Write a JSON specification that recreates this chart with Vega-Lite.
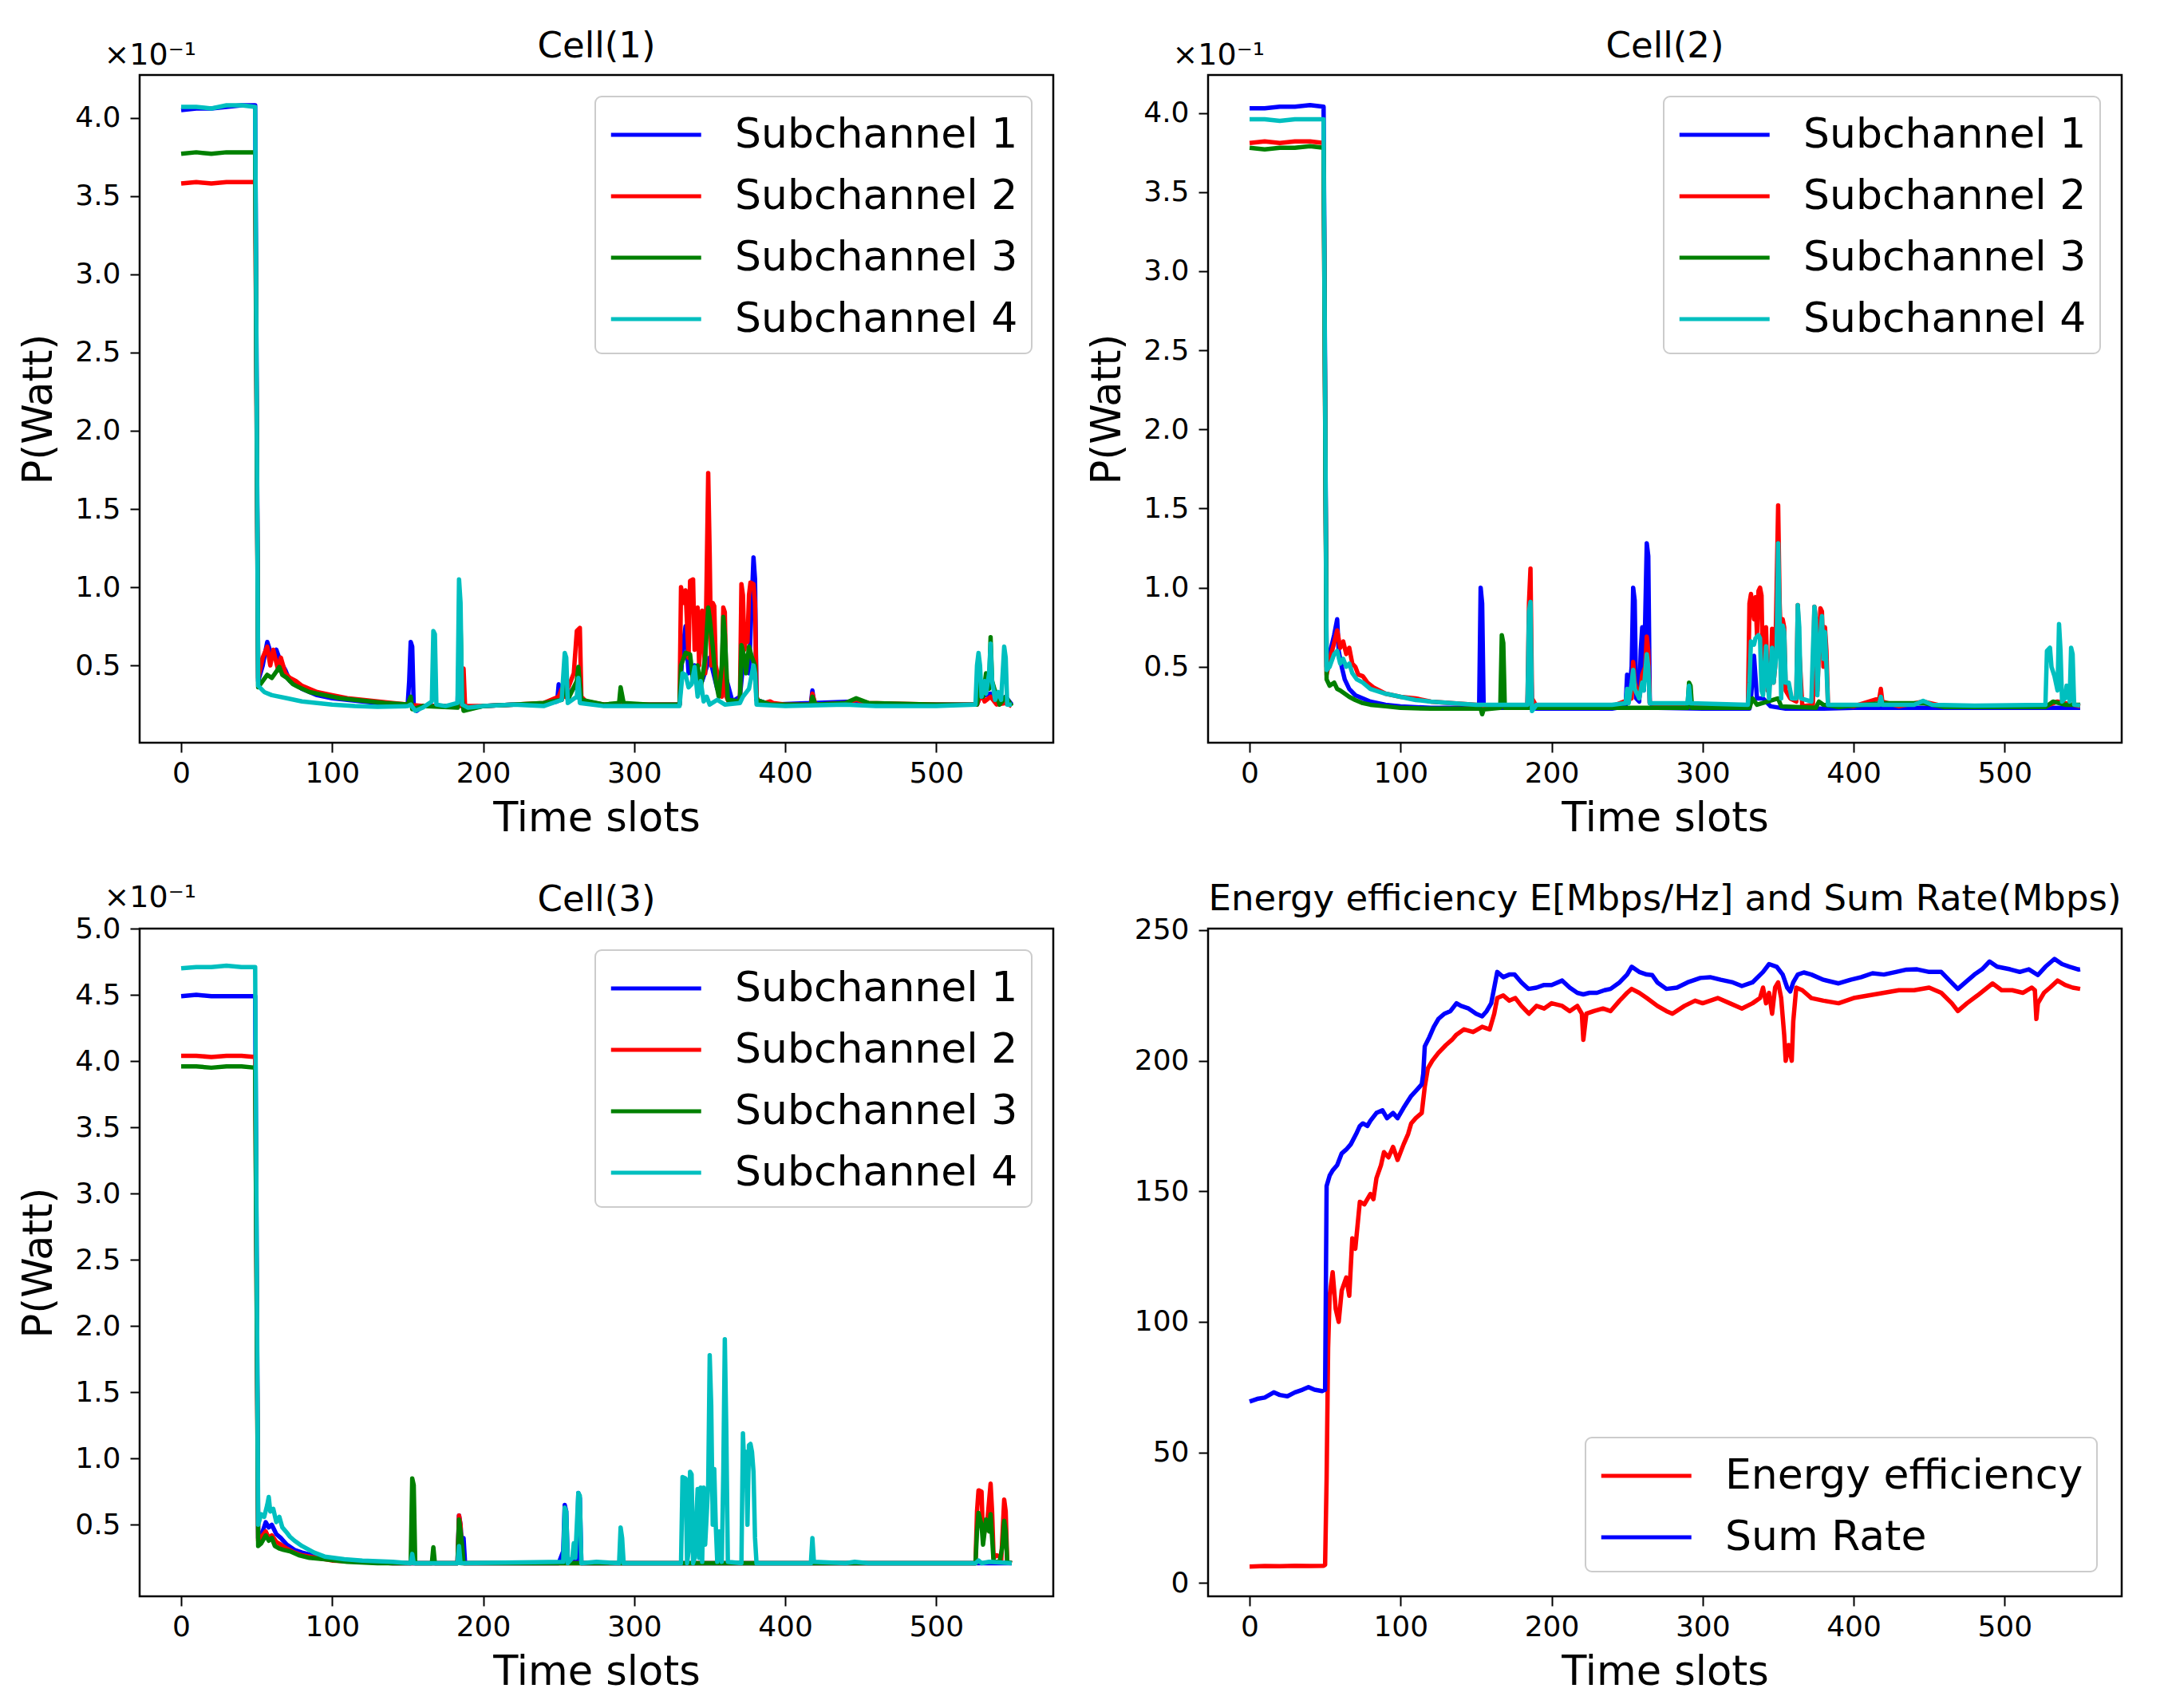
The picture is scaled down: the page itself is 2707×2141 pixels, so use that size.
{
  "$schema": "https://vega.github.io/schema/vega-lite/v6.json",
  "background": "white",
  "padding": {"left": 22, "top": 34, "right": 30, "bottom": 20},
  "columns": 2,
  "bounds": "flush",
  "spacing": {"row": 233, "column": 194},
  "resolve": {
    "scale": {"x": "independent", "y": "independent", "color": "independent"},
    "legend": {"color": "independent"}
  },
  "config": {
    "font": "DejaVu Sans",
    "view": {"stroke": "black", "strokeWidth": 2.5},
    "axis": {
      "domain": false,
      "grid": false,
      "ticks": true,
      "tickColor": "black",
      "tickSize": 12,
      "tickWidth": 2,
      "labelFont": "DejaVu Sans",
      "labelFontSize": 36,
      "labelColor": "black",
      "titleFont": "DejaVu Sans",
      "titleFontSize": 51,
      "titleFontWeight": "normal",
      "titleColor": "black"
    },
    "axisX": {"labelPadding": 9, "titlePadding": 14},
    "axisY": {"labelPadding": 12, "titlePadding": 18},
    "title": {
      "font": "DejaVu Sans",
      "fontSize": 45,
      "fontWeight": "normal",
      "color": "black",
      "anchor": "middle",
      "frame": "group",
      "baseline": "alphabetic"
    },
    "legend": {
      "offset": 27,
      "fillColor": "white",
      "strokeColor": "#cccccc",
      "strokeWidth": 2,
      "cornerRadius": 8,
      "padding": 17,
      "labelFont": "DejaVu Sans",
      "labelFontSize": 52,
      "labelColor": "black",
      "labelLimit": 0,
      "labelOffset": 96,
      "symbolType": "M-1,0H3",
      "symbolSize": 3190,
      "symbolStrokeWidth": 5,
      "rowPadding": 20,
      "title": null
    }
  },
  "datasets": {
    "c1": [
      {"s":"Subchannel 1","t":0,"v":4.05},{"s":"Subchannel 1","t":10,"v":4.06},{"s":"Subchannel 1","t":20,"v":4.06},{"s":"Subchannel 1","t":30,"v":4.07},{"s":"Subchannel 1","t":40,"v":4.08},{"s":"Subchannel 1","t":49,"v":4.08},
      {"s":"Subchannel 1","t":51,"v":0.4},{"s":"Subchannel 1","t":54,"v":0.5},{"s":"Subchannel 1","t":57,"v":0.65},{"s":"Subchannel 1","t":60,"v":0.56},{"s":"Subchannel 1","t":63,"v":0.6},{"s":"Subchannel 1","t":66,"v":0.52},{"s":"Subchannel 1","t":69,"v":0.47},{"s":"Subchannel 1","t":72,"v":0.4},{"s":"Subchannel 1","t":76,"v":0.38},{"s":"Subchannel 1","t":80,"v":0.35},{"s":"Subchannel 1","t":90,"v":0.31},{"s":"Subchannel 1","t":100,"v":0.29},{"s":"Subchannel 1","t":110,"v":0.28},{"s":"Subchannel 1","t":120,"v":0.27},{"s":"Subchannel 1","t":130,"v":0.26},{"s":"Subchannel 1","t":140,"v":0.25},{"s":"Subchannel 1","t":150,"v":0.25},
      {"s":"Subchannel 1","t":151,"v":0.4},{"s":"Subchannel 1","t":152,"v":0.65},{"s":"Subchannel 1","t":153,"v":0.62},{"s":"Subchannel 1","t":154,"v":0.24},{"s":"Subchannel 1","t":156,"v":0.21},{"s":"Subchannel 1","t":160,"v":0.24},{"s":"Subchannel 1","t":183,"v":0.24},{"s":"Subchannel 1","t":184,"v":0.6},{"s":"Subchannel 1","t":185,"v":0.3},{"s":"Subchannel 1","t":187,"v":0.22},{"s":"Subchannel 1","t":200,"v":0.24},{"s":"Subchannel 1","t":220,"v":0.25},{"s":"Subchannel 1","t":240,"v":0.25},{"s":"Subchannel 1","t":249,"v":0.27},{"s":"Subchannel 1","t":250,"v":0.38},{"s":"Subchannel 1","t":252,"v":0.28},{"s":"Subchannel 1","t":254,"v":0.45},{"s":"Subchannel 1","t":256,"v":0.3},{"s":"Subchannel 1","t":263,"v":0.4},{"s":"Subchannel 1","t":265,"v":0.27},{"s":"Subchannel 1","t":280,"v":0.25},{"s":"Subchannel 1","t":300,"v":0.25},{"s":"Subchannel 1","t":330,"v":0.25},
      {"s":"Subchannel 1","t":332,"v":0.6},{"s":"Subchannel 1","t":334,"v":0.75},{"s":"Subchannel 1","t":336,"v":0.45},{"s":"Subchannel 1","t":340,"v":0.5},{"s":"Subchannel 1","t":345,"v":0.4},{"s":"Subchannel 1","t":350,"v":0.55},{"s":"Subchannel 1","t":355,"v":0.35},{"s":"Subchannel 1","t":360,"v":0.45},{"s":"Subchannel 1","t":365,"v":0.27},{"s":"Subchannel 1","t":370,"v":0.3},{"s":"Subchannel 1","t":372,"v":0.5},{"s":"Subchannel 1","t":376,"v":0.45},{"s":"Subchannel 1","t":379,"v":1.19},{"s":"Subchannel 1","t":380,"v":1.05},{"s":"Subchannel 1","t":381,"v":0.28},{"s":"Subchannel 1","t":390,"v":0.25},{"s":"Subchannel 1","t":417,"v":0.26},{"s":"Subchannel 1","t":418,"v":0.34},{"s":"Subchannel 1","t":419,"v":0.26},{"s":"Subchannel 1","t":447,"v":0.27},{"s":"Subchannel 1","t":460,"v":0.25},{"s":"Subchannel 1","t":500,"v":0.25},{"s":"Subchannel 1","t":527,"v":0.25},{"s":"Subchannel 1","t":529,"v":0.3},{"s":"Subchannel 1","t":536,"v":0.32},{"s":"Subchannel 1","t":540,"v":0.26},{"s":"Subchannel 1","t":546,"v":0.3},{"s":"Subchannel 1","t":550,"v":0.25},

      {"s":"Subchannel 2","t":0,"v":3.58},{"s":"Subchannel 2","t":10,"v":3.59},{"s":"Subchannel 2","t":20,"v":3.58},{"s":"Subchannel 2","t":30,"v":3.59},{"s":"Subchannel 2","t":40,"v":3.59},{"s":"Subchannel 2","t":49,"v":3.59},
      {"s":"Subchannel 2","t":51,"v":0.42},{"s":"Subchannel 2","t":54,"v":0.55},{"s":"Subchannel 2","t":57,"v":0.62},{"s":"Subchannel 2","t":59,"v":0.5},{"s":"Subchannel 2","t":61,"v":0.6},{"s":"Subchannel 2","t":64,"v":0.48},{"s":"Subchannel 2","t":66,"v":0.55},{"s":"Subchannel 2","t":69,"v":0.45},{"s":"Subchannel 2","t":72,"v":0.42},{"s":"Subchannel 2","t":76,"v":0.4},{"s":"Subchannel 2","t":80,"v":0.37},{"s":"Subchannel 2","t":90,"v":0.33},{"s":"Subchannel 2","t":100,"v":0.31},{"s":"Subchannel 2","t":110,"v":0.29},{"s":"Subchannel 2","t":120,"v":0.28},{"s":"Subchannel 2","t":130,"v":0.27},{"s":"Subchannel 2","t":140,"v":0.26},{"s":"Subchannel 2","t":150,"v":0.25},{"s":"Subchannel 2","t":160,"v":0.24},{"s":"Subchannel 2","t":185,"v":0.24},{"s":"Subchannel 2","t":187,"v":0.48},{"s":"Subchannel 2","t":188,"v":0.24},{"s":"Subchannel 2","t":200,"v":0.24},{"s":"Subchannel 2","t":220,"v":0.25},{"s":"Subchannel 2","t":240,"v":0.26},{"s":"Subchannel 2","t":250,"v":0.3},{"s":"Subchannel 2","t":252,"v":0.35},{"s":"Subchannel 2","t":254,"v":0.3},{"s":"Subchannel 2","t":260,"v":0.45},{"s":"Subchannel 2","t":262,"v":0.72},{"s":"Subchannel 2","t":264,"v":0.74},{"s":"Subchannel 2","t":265,"v":0.3},{"s":"Subchannel 2","t":268,"v":0.27},{"s":"Subchannel 2","t":280,"v":0.25},{"s":"Subchannel 2","t":300,"v":0.25},{"s":"Subchannel 2","t":330,"v":0.25},
      {"s":"Subchannel 2","t":331,"v":1.0},{"s":"Subchannel 2","t":333,"v":0.9},{"s":"Subchannel 2","t":334,"v":0.98},{"s":"Subchannel 2","t":336,"v":0.55},{"s":"Subchannel 2","t":337,"v":1.04},{"s":"Subchannel 2","t":339,"v":1.05},{"s":"Subchannel 2","t":340,"v":0.6},{"s":"Subchannel 2","t":342,"v":0.87},{"s":"Subchannel 2","t":343,"v":0.5},{"s":"Subchannel 2","t":345,"v":0.85},{"s":"Subchannel 2","t":347,"v":0.45},{"s":"Subchannel 2","t":349,"v":1.73},{"s":"Subchannel 2","t":350,"v":1.2},{"s":"Subchannel 2","t":351,"v":0.5},{"s":"Subchannel 2","t":352,"v":0.9},{"s":"Subchannel 2","t":353,"v":0.88},{"s":"Subchannel 2","t":354,"v":0.5},{"s":"Subchannel 2","t":356,"v":0.4},{"s":"Subchannel 2","t":357,"v":0.42},{"s":"Subchannel 2","t":358,"v":0.3},{"s":"Subchannel 2","t":359,"v":0.87},{"s":"Subchannel 2","t":360,"v":0.84},{"s":"Subchannel 2","t":361,"v":0.3},{"s":"Subchannel 2","t":363,"v":0.26},{"s":"Subchannel 2","t":370,"v":0.27},{"s":"Subchannel 2","t":371,"v":1.02},{"s":"Subchannel 2","t":372,"v":0.95},{"s":"Subchannel 2","t":373,"v":0.6},{"s":"Subchannel 2","t":374,"v":0.7},{"s":"Subchannel 2","t":375,"v":0.65},{"s":"Subchannel 2","t":376,"v":0.95},{"s":"Subchannel 2","t":377,"v":1.03},{"s":"Subchannel 2","t":379,"v":1.02},{"s":"Subchannel 2","t":380,"v":0.9},{"s":"Subchannel 2","t":381,"v":0.3},{"s":"Subchannel 2","t":383,"v":0.25},{"s":"Subchannel 2","t":390,"v":0.27},{"s":"Subchannel 2","t":392,"v":0.26},{"s":"Subchannel 2","t":400,"v":0.25},{"s":"Subchannel 2","t":417,"v":0.25},{"s":"Subchannel 2","t":418,"v":0.32},{"s":"Subchannel 2","t":420,"v":0.25},{"s":"Subchannel 2","t":440,"v":0.26},{"s":"Subchannel 2","t":447,"v":0.28},{"s":"Subchannel 2","t":455,"v":0.26},{"s":"Subchannel 2","t":500,"v":0.25},{"s":"Subchannel 2","t":527,"v":0.25},{"s":"Subchannel 2","t":530,"v":0.32},{"s":"Subchannel 2","t":532,"v":0.27},{"s":"Subchannel 2","t":536,"v":0.3},{"s":"Subchannel 2","t":540,"v":0.25},{"s":"Subchannel 2","t":546,"v":0.26},{"s":"Subchannel 2","t":550,"v":0.24},

      {"s":"Subchannel 3","t":0,"v":3.77},{"s":"Subchannel 3","t":10,"v":3.78},{"s":"Subchannel 3","t":20,"v":3.77},{"s":"Subchannel 3","t":30,"v":3.78},{"s":"Subchannel 3","t":40,"v":3.78},{"s":"Subchannel 3","t":49,"v":3.78},
      {"s":"Subchannel 3","t":51,"v":0.36},{"s":"Subchannel 3","t":54,"v":0.4},{"s":"Subchannel 3","t":57,"v":0.44},{"s":"Subchannel 3","t":60,"v":0.42},{"s":"Subchannel 3","t":63,"v":0.46},{"s":"Subchannel 3","t":65,"v":0.49},{"s":"Subchannel 3","t":67,"v":0.44},{"s":"Subchannel 3","t":70,"v":0.42},{"s":"Subchannel 3","t":74,"v":0.38},{"s":"Subchannel 3","t":78,"v":0.36},{"s":"Subchannel 3","t":85,"v":0.33},{"s":"Subchannel 3","t":95,"v":0.31},{"s":"Subchannel 3","t":105,"v":0.29},{"s":"Subchannel 3","t":115,"v":0.28},{"s":"Subchannel 3","t":125,"v":0.27},{"s":"Subchannel 3","t":135,"v":0.26},{"s":"Subchannel 3","t":150,"v":0.25},{"s":"Subchannel 3","t":152,"v":0.3},{"s":"Subchannel 3","t":153,"v":0.22},{"s":"Subchannel 3","t":160,"v":0.24},{"s":"Subchannel 3","t":183,"v":0.23},{"s":"Subchannel 3","t":184,"v":0.4},{"s":"Subchannel 3","t":185,"v":0.75},{"s":"Subchannel 3","t":186,"v":0.3},{"s":"Subchannel 3","t":187,"v":0.21},{"s":"Subchannel 3","t":200,"v":0.24},{"s":"Subchannel 3","t":220,"v":0.25},{"s":"Subchannel 3","t":240,"v":0.26},{"s":"Subchannel 3","t":252,"v":0.28},{"s":"Subchannel 3","t":254,"v":0.38},{"s":"Subchannel 3","t":256,"v":0.28},{"s":"Subchannel 3","t":262,"v":0.4},{"s":"Subchannel 3","t":263,"v":0.49},{"s":"Subchannel 3","t":265,"v":0.28},{"s":"Subchannel 3","t":280,"v":0.25},{"s":"Subchannel 3","t":290,"v":0.26},{"s":"Subchannel 3","t":291,"v":0.36},{"s":"Subchannel 3","t":293,"v":0.26},{"s":"Subchannel 3","t":310,"v":0.25},{"s":"Subchannel 3","t":330,"v":0.25},
      {"s":"Subchannel 3","t":331,"v":0.5},{"s":"Subchannel 3","t":334,"v":0.58},{"s":"Subchannel 3","t":337,"v":0.57},{"s":"Subchannel 3","t":339,"v":0.4},{"s":"Subchannel 3","t":342,"v":0.5},{"s":"Subchannel 3","t":344,"v":0.35},{"s":"Subchannel 3","t":347,"v":0.55},{"s":"Subchannel 3","t":349,"v":0.87},{"s":"Subchannel 3","t":350,"v":0.8},{"s":"Subchannel 3","t":352,"v":0.62},{"s":"Subchannel 3","t":354,"v":0.4},{"s":"Subchannel 3","t":356,"v":0.3},{"s":"Subchannel 3","t":358,"v":0.5},{"s":"Subchannel 3","t":359,"v":0.81},{"s":"Subchannel 3","t":360,"v":0.7},{"s":"Subchannel 3","t":362,"v":0.28},{"s":"Subchannel 3","t":370,"v":0.27},{"s":"Subchannel 3","t":371,"v":0.63},{"s":"Subchannel 3","t":373,"v":0.55},{"s":"Subchannel 3","t":374,"v":0.45},{"s":"Subchannel 3","t":376,"v":0.62},{"s":"Subchannel 3","t":378,"v":0.55},{"s":"Subchannel 3","t":380,"v":0.5},{"s":"Subchannel 3","t":381,"v":0.28},{"s":"Subchannel 3","t":390,"v":0.25},{"s":"Subchannel 3","t":417,"v":0.25},{"s":"Subchannel 3","t":418,"v":0.3},{"s":"Subchannel 3","t":420,"v":0.25},{"s":"Subchannel 3","t":440,"v":0.26},{"s":"Subchannel 3","t":447,"v":0.29},{"s":"Subchannel 3","t":455,"v":0.26},{"s":"Subchannel 3","t":500,"v":0.25},{"s":"Subchannel 3","t":527,"v":0.25},{"s":"Subchannel 3","t":529,"v":0.4},{"s":"Subchannel 3","t":531,"v":0.3},{"s":"Subchannel 3","t":533,"v":0.45},{"s":"Subchannel 3","t":535,"v":0.35},{"s":"Subchannel 3","t":536,"v":0.68},{"s":"Subchannel 3","t":537,"v":0.4},{"s":"Subchannel 3","t":540,"v":0.3},{"s":"Subchannel 3","t":542,"v":0.25},{"s":"Subchannel 3","t":546,"v":0.3},{"s":"Subchannel 3","t":550,"v":0.24},

      {"s":"Subchannel 4","t":0,"v":4.07},{"s":"Subchannel 4","t":10,"v":4.07},{"s":"Subchannel 4","t":20,"v":4.06},{"s":"Subchannel 4","t":30,"v":4.08},{"s":"Subchannel 4","t":40,"v":4.08},{"s":"Subchannel 4","t":49,"v":4.07},
      {"s":"Subchannel 4","t":51,"v":0.37},{"s":"Subchannel 4","t":55,"v":0.33},{"s":"Subchannel 4","t":60,"v":0.31},{"s":"Subchannel 4","t":70,"v":0.29},{"s":"Subchannel 4","t":80,"v":0.27},{"s":"Subchannel 4","t":90,"v":0.26},{"s":"Subchannel 4","t":100,"v":0.25},{"s":"Subchannel 4","t":115,"v":0.24},{"s":"Subchannel 4","t":130,"v":0.235},{"s":"Subchannel 4","t":150,"v":0.24},{"s":"Subchannel 4","t":152,"v":0.25},{"s":"Subchannel 4","t":155,"v":0.21},{"s":"Subchannel 4","t":160,"v":0.23},{"s":"Subchannel 4","t":166,"v":0.27},{"s":"Subchannel 4","t":167,"v":0.72},{"s":"Subchannel 4","t":168,"v":0.7},{"s":"Subchannel 4","t":169,"v":0.25},{"s":"Subchannel 4","t":175,"v":0.24},{"s":"Subchannel 4","t":183,"v":0.26},{"s":"Subchannel 4","t":184,"v":1.05},{"s":"Subchannel 4","t":185,"v":0.9},{"s":"Subchannel 4","t":186,"v":0.25},{"s":"Subchannel 4","t":190,"v":0.23},{"s":"Subchannel 4","t":200,"v":0.24},{"s":"Subchannel 4","t":220,"v":0.25},{"s":"Subchannel 4","t":240,"v":0.24},{"s":"Subchannel 4","t":252,"v":0.28},{"s":"Subchannel 4","t":254,"v":0.58},{"s":"Subchannel 4","t":255,"v":0.55},{"s":"Subchannel 4","t":256,"v":0.26},{"s":"Subchannel 4","t":262,"v":0.3},{"s":"Subchannel 4","t":263,"v":0.42},{"s":"Subchannel 4","t":264,"v":0.26},{"s":"Subchannel 4","t":280,"v":0.24},{"s":"Subchannel 4","t":300,"v":0.24},{"s":"Subchannel 4","t":330,"v":0.24},
      {"s":"Subchannel 4","t":332,"v":0.45},{"s":"Subchannel 4","t":334,"v":0.44},{"s":"Subchannel 4","t":336,"v":0.36},{"s":"Subchannel 4","t":338,"v":0.38},{"s":"Subchannel 4","t":340,"v":0.49},{"s":"Subchannel 4","t":342,"v":0.3},{"s":"Subchannel 4","t":344,"v":0.4},{"s":"Subchannel 4","t":346,"v":0.27},{"s":"Subchannel 4","t":348,"v":0.3},{"s":"Subchannel 4","t":350,"v":0.25},{"s":"Subchannel 4","t":355,"v":0.28},{"s":"Subchannel 4","t":360,"v":0.25},{"s":"Subchannel 4","t":370,"v":0.26},{"s":"Subchannel 4","t":372,"v":0.3},{"s":"Subchannel 4","t":376,"v":0.35},{"s":"Subchannel 4","t":379,"v":0.5},{"s":"Subchannel 4","t":380,"v":0.45},{"s":"Subchannel 4","t":381,"v":0.25},{"s":"Subchannel 4","t":400,"v":0.24},{"s":"Subchannel 4","t":440,"v":0.25},{"s":"Subchannel 4","t":460,"v":0.24},{"s":"Subchannel 4","t":500,"v":0.24},{"s":"Subchannel 4","t":526,"v":0.25},{"s":"Subchannel 4","t":527,"v":0.5},{"s":"Subchannel 4","t":528,"v":0.58},{"s":"Subchannel 4","t":529,"v":0.5},{"s":"Subchannel 4","t":530,"v":0.3},{"s":"Subchannel 4","t":532,"v":0.4},{"s":"Subchannel 4","t":533,"v":0.32},{"s":"Subchannel 4","t":535,"v":0.45},{"s":"Subchannel 4","t":536,"v":0.64},{"s":"Subchannel 4","t":537,"v":0.4},{"s":"Subchannel 4","t":539,"v":0.28},{"s":"Subchannel 4","t":541,"v":0.33},{"s":"Subchannel 4","t":543,"v":0.28},{"s":"Subchannel 4","t":545,"v":0.62},{"s":"Subchannel 4","t":546,"v":0.55},{"s":"Subchannel 4","t":547,"v":0.25},{"s":"Subchannel 4","t":550,"v":0.25}
    ],
    "c2": [
      {"s":"Subchannel 1","t":0,"v":4.03},{"s":"Subchannel 1","t":10,"v":4.03},{"s":"Subchannel 1","t":20,"v":4.04},{"s":"Subchannel 1","t":30,"v":4.04},{"s":"Subchannel 1","t":40,"v":4.05},{"s":"Subchannel 1","t":49,"v":4.04},
      {"s":"Subchannel 1","t":51,"v":0.5},{"s":"Subchannel 1","t":54,"v":0.62},{"s":"Subchannel 1","t":56,"v":0.7},{"s":"Subchannel 1","t":58,"v":0.8},{"s":"Subchannel 1","t":59,"v":0.6},{"s":"Subchannel 1","t":61,"v":0.5},{"s":"Subchannel 1","t":63,"v":0.42},{"s":"Subchannel 1","t":66,"v":0.36},{"s":"Subchannel 1","t":70,"v":0.32},{"s":"Subchannel 1","t":75,"v":0.3},{"s":"Subchannel 1","t":80,"v":0.28},{"s":"Subchannel 1","t":90,"v":0.26},{"s":"Subchannel 1","t":100,"v":0.25},{"s":"Subchannel 1","t":120,"v":0.24},{"s":"Subchannel 1","t":152,"v":0.24},{"s":"Subchannel 1","t":153,"v":1.0},{"s":"Subchannel 1","t":154,"v":0.9},{"s":"Subchannel 1","t":155,"v":0.235},{"s":"Subchannel 1","t":160,"v":0.24},{"s":"Subchannel 1","t":184,"v":0.24},{"s":"Subchannel 1","t":185,"v":0.6},{"s":"Subchannel 1","t":186,"v":0.7},{"s":"Subchannel 1","t":187,"v":0.235},{"s":"Subchannel 1","t":200,"v":0.235},{"s":"Subchannel 1","t":240,"v":0.235},{"s":"Subchannel 1","t":249,"v":0.25},{"s":"Subchannel 1","t":250,"v":0.45},{"s":"Subchannel 1","t":251,"v":0.3},{"s":"Subchannel 1","t":253,"v":0.5},{"s":"Subchannel 1","t":254,"v":1.0},{"s":"Subchannel 1","t":255,"v":0.92},{"s":"Subchannel 1","t":256,"v":0.3},{"s":"Subchannel 1","t":258,"v":0.28},{"s":"Subchannel 1","t":259,"v":0.6},{"s":"Subchannel 1","t":260,"v":0.75},{"s":"Subchannel 1","t":261,"v":0.35},{"s":"Subchannel 1","t":263,"v":1.28},{"s":"Subchannel 1","t":264,"v":1.2},{"s":"Subchannel 1","t":265,"v":0.27},{"s":"Subchannel 1","t":270,"v":0.24},{"s":"Subchannel 1","t":300,"v":0.235},{"s":"Subchannel 1","t":331,"v":0.235},{"s":"Subchannel 1","t":332,"v":0.3},{"s":"Subchannel 1","t":334,"v":0.57},{"s":"Subchannel 1","t":336,"v":0.3},{"s":"Subchannel 1","t":340,"v":0.3},{"s":"Subchannel 1","t":345,"v":0.25},{"s":"Subchannel 1","t":355,"v":0.235},{"s":"Subchannel 1","t":380,"v":0.235},{"s":"Subchannel 1","t":400,"v":0.24},{"s":"Subchannel 1","t":460,"v":0.24},{"s":"Subchannel 1","t":500,"v":0.24},{"s":"Subchannel 1","t":527,"v":0.24},{"s":"Subchannel 1","t":550,"v":0.24},

      {"s":"Subchannel 2","t":0,"v":3.81},{"s":"Subchannel 2","t":10,"v":3.82},{"s":"Subchannel 2","t":20,"v":3.81},{"s":"Subchannel 2","t":30,"v":3.82},{"s":"Subchannel 2","t":40,"v":3.82},{"s":"Subchannel 2","t":49,"v":3.81},
      {"s":"Subchannel 2","t":51,"v":0.45},{"s":"Subchannel 2","t":54,"v":0.58},{"s":"Subchannel 2","t":56,"v":0.65},{"s":"Subchannel 2","t":58,"v":0.73},{"s":"Subchannel 2","t":60,"v":0.62},{"s":"Subchannel 2","t":62,"v":0.66},{"s":"Subchannel 2","t":64,"v":0.58},{"s":"Subchannel 2","t":66,"v":0.62},{"s":"Subchannel 2","t":68,"v":0.52},{"s":"Subchannel 2","t":70,"v":0.5},{"s":"Subchannel 2","t":72,"v":0.45},{"s":"Subchannel 2","t":75,"v":0.44},{"s":"Subchannel 2","t":78,"v":0.4},{"s":"Subchannel 2","t":82,"v":0.37},{"s":"Subchannel 2","t":90,"v":0.33},{"s":"Subchannel 2","t":100,"v":0.31},{"s":"Subchannel 2","t":110,"v":0.3},{"s":"Subchannel 2","t":120,"v":0.28},{"s":"Subchannel 2","t":135,"v":0.27},{"s":"Subchannel 2","t":150,"v":0.26},{"s":"Subchannel 2","t":160,"v":0.25},{"s":"Subchannel 2","t":184,"v":0.26},{"s":"Subchannel 2","t":185,"v":0.9},{"s":"Subchannel 2","t":186,"v":1.12},{"s":"Subchannel 2","t":187,"v":0.3},{"s":"Subchannel 2","t":190,"v":0.25},{"s":"Subchannel 2","t":200,"v":0.25},{"s":"Subchannel 2","t":240,"v":0.25},{"s":"Subchannel 2","t":253,"v":0.3},{"s":"Subchannel 2","t":254,"v":0.53},{"s":"Subchannel 2","t":255,"v":0.4},{"s":"Subchannel 2","t":258,"v":0.3},{"s":"Subchannel 2","t":260,"v":0.45},{"s":"Subchannel 2","t":262,"v":0.5},{"s":"Subchannel 2","t":263,"v":0.69},{"s":"Subchannel 2","t":264,"v":0.6},{"s":"Subchannel 2","t":265,"v":0.27},{"s":"Subchannel 2","t":280,"v":0.25},{"s":"Subchannel 2","t":330,"v":0.25},
      {"s":"Subchannel 2","t":331,"v":0.9},{"s":"Subchannel 2","t":332,"v":0.96},{"s":"Subchannel 2","t":334,"v":0.8},{"s":"Subchannel 2","t":335,"v":0.94},{"s":"Subchannel 2","t":336,"v":0.7},{"s":"Subchannel 2","t":337,"v":0.98},{"s":"Subchannel 2","t":338,"v":1.0},{"s":"Subchannel 2","t":339,"v":0.95},{"s":"Subchannel 2","t":340,"v":0.4},{"s":"Subchannel 2","t":342,"v":0.75},{"s":"Subchannel 2","t":343,"v":0.35},{"s":"Subchannel 2","t":345,"v":0.4},{"s":"Subchannel 2","t":346,"v":0.74},{"s":"Subchannel 2","t":347,"v":0.4},{"s":"Subchannel 2","t":348,"v":0.5},{"s":"Subchannel 2","t":349,"v":1.0},{"s":"Subchannel 2","t":350,"v":1.52},{"s":"Subchannel 2","t":351,"v":0.9},{"s":"Subchannel 2","t":352,"v":0.6},{"s":"Subchannel 2","t":353,"v":0.8},{"s":"Subchannel 2","t":354,"v":0.75},{"s":"Subchannel 2","t":355,"v":0.35},{"s":"Subchannel 2","t":358,"v":0.3},{"s":"Subchannel 2","t":362,"v":0.28},{"s":"Subchannel 2","t":363,"v":0.89},{"s":"Subchannel 2","t":364,"v":0.6},{"s":"Subchannel 2","t":366,"v":0.25},{"s":"Subchannel 2","t":373,"v":0.26},{"s":"Subchannel 2","t":374,"v":0.88},{"s":"Subchannel 2","t":375,"v":0.8},{"s":"Subchannel 2","t":376,"v":0.35},{"s":"Subchannel 2","t":377,"v":0.6},{"s":"Subchannel 2","t":378,"v":0.87},{"s":"Subchannel 2","t":379,"v":0.85},{"s":"Subchannel 2","t":380,"v":0.5},{"s":"Subchannel 2","t":381,"v":0.75},{"s":"Subchannel 2","t":382,"v":0.6},{"s":"Subchannel 2","t":383,"v":0.26},{"s":"Subchannel 2","t":400,"v":0.25},{"s":"Subchannel 2","t":417,"v":0.3},{"s":"Subchannel 2","t":418,"v":0.36},{"s":"Subchannel 2","t":419,"v":0.28},{"s":"Subchannel 2","t":430,"v":0.25},{"s":"Subchannel 2","t":446,"v":0.28},{"s":"Subchannel 2","t":460,"v":0.25},{"s":"Subchannel 2","t":500,"v":0.25},{"s":"Subchannel 2","t":527,"v":0.25},{"s":"Subchannel 2","t":535,"v":0.28},{"s":"Subchannel 2","t":550,"v":0.25},

      {"s":"Subchannel 3","t":0,"v":3.78},{"s":"Subchannel 3","t":10,"v":3.77},{"s":"Subchannel 3","t":20,"v":3.78},{"s":"Subchannel 3","t":30,"v":3.78},{"s":"Subchannel 3","t":40,"v":3.79},{"s":"Subchannel 3","t":49,"v":3.78},
      {"s":"Subchannel 3","t":51,"v":0.42},{"s":"Subchannel 3","t":53,"v":0.38},{"s":"Subchannel 3","t":56,"v":0.4},{"s":"Subchannel 3","t":58,"v":0.36},{"s":"Subchannel 3","t":60,"v":0.35},{"s":"Subchannel 3","t":63,"v":0.33},{"s":"Subchannel 3","t":66,"v":0.31},{"s":"Subchannel 3","t":70,"v":0.29},{"s":"Subchannel 3","t":75,"v":0.27},{"s":"Subchannel 3","t":80,"v":0.26},{"s":"Subchannel 3","t":90,"v":0.25},{"s":"Subchannel 3","t":100,"v":0.24},{"s":"Subchannel 3","t":120,"v":0.235},{"s":"Subchannel 3","t":153,"v":0.235},{"s":"Subchannel 3","t":154,"v":0.2},{"s":"Subchannel 3","t":155,"v":0.23},{"s":"Subchannel 3","t":166,"v":0.24},{"s":"Subchannel 3","t":167,"v":0.7},{"s":"Subchannel 3","t":168,"v":0.65},{"s":"Subchannel 3","t":169,"v":0.24},{"s":"Subchannel 3","t":200,"v":0.24},{"s":"Subchannel 3","t":250,"v":0.24},{"s":"Subchannel 3","t":290,"v":0.24},{"s":"Subchannel 3","t":291,"v":0.4},{"s":"Subchannel 3","t":292,"v":0.38},{"s":"Subchannel 3","t":293,"v":0.24},{"s":"Subchannel 3","t":331,"v":0.24},{"s":"Subchannel 3","t":333,"v":0.3},{"s":"Subchannel 3","t":336,"v":0.26},{"s":"Subchannel 3","t":350,"v":0.3},{"s":"Subchannel 3","t":352,"v":0.25},{"s":"Subchannel 3","t":375,"v":0.24},{"s":"Subchannel 3","t":377,"v":0.28},{"s":"Subchannel 3","t":380,"v":0.26},{"s":"Subchannel 3","t":390,"v":0.245},{"s":"Subchannel 3","t":418,"v":0.27},{"s":"Subchannel 3","t":446,"v":0.27},{"s":"Subchannel 3","t":460,"v":0.245},{"s":"Subchannel 3","t":500,"v":0.245},{"s":"Subchannel 3","t":527,"v":0.245},{"s":"Subchannel 3","t":532,"v":0.28},{"s":"Subchannel 3","t":540,"v":0.26},{"s":"Subchannel 3","t":550,"v":0.26},

      {"s":"Subchannel 4","t":0,"v":3.96},{"s":"Subchannel 4","t":10,"v":3.96},{"s":"Subchannel 4","t":20,"v":3.95},{"s":"Subchannel 4","t":30,"v":3.96},{"s":"Subchannel 4","t":40,"v":3.96},{"s":"Subchannel 4","t":49,"v":3.96},
      {"s":"Subchannel 4","t":51,"v":0.48},{"s":"Subchannel 4","t":53,"v":0.5},{"s":"Subchannel 4","t":56,"v":0.58},{"s":"Subchannel 4","t":58,"v":0.6},{"s":"Subchannel 4","t":60,"v":0.52},{"s":"Subchannel 4","t":62,"v":0.55},{"s":"Subchannel 4","t":64,"v":0.5},{"s":"Subchannel 4","t":66,"v":0.52},{"s":"Subchannel 4","t":68,"v":0.46},{"s":"Subchannel 4","t":71,"v":0.42},{"s":"Subchannel 4","t":75,"v":0.4},{"s":"Subchannel 4","t":80,"v":0.36},{"s":"Subchannel 4","t":90,"v":0.33},{"s":"Subchannel 4","t":100,"v":0.31},{"s":"Subchannel 4","t":110,"v":0.29},{"s":"Subchannel 4","t":120,"v":0.28},{"s":"Subchannel 4","t":135,"v":0.27},{"s":"Subchannel 4","t":150,"v":0.26},{"s":"Subchannel 4","t":184,"v":0.26},{"s":"Subchannel 4","t":185,"v":0.85},{"s":"Subchannel 4","t":186,"v":0.91},{"s":"Subchannel 4","t":187,"v":0.22},{"s":"Subchannel 4","t":190,"v":0.26},{"s":"Subchannel 4","t":240,"v":0.26},{"s":"Subchannel 4","t":249,"v":0.27},{"s":"Subchannel 4","t":250,"v":0.36},{"s":"Subchannel 4","t":251,"v":0.27},{"s":"Subchannel 4","t":253,"v":0.4},{"s":"Subchannel 4","t":254,"v":0.48},{"s":"Subchannel 4","t":255,"v":0.36},{"s":"Subchannel 4","t":258,"v":0.3},{"s":"Subchannel 4","t":260,"v":0.4},{"s":"Subchannel 4","t":261,"v":0.35},{"s":"Subchannel 4","t":263,"v":0.58},{"s":"Subchannel 4","t":264,"v":0.5},{"s":"Subchannel 4","t":265,"v":0.27},{"s":"Subchannel 4","t":290,"v":0.27},{"s":"Subchannel 4","t":291,"v":0.38},{"s":"Subchannel 4","t":292,"v":0.27},{"s":"Subchannel 4","t":330,"v":0.26},
      {"s":"Subchannel 4","t":331,"v":0.4},{"s":"Subchannel 4","t":332,"v":0.66},{"s":"Subchannel 4","t":334,"v":0.64},{"s":"Subchannel 4","t":335,"v":0.68},{"s":"Subchannel 4","t":337,"v":0.7},{"s":"Subchannel 4","t":338,"v":0.68},{"s":"Subchannel 4","t":339,"v":0.35},{"s":"Subchannel 4","t":340,"v":0.32},{"s":"Subchannel 4","t":342,"v":0.63},{"s":"Subchannel 4","t":343,"v":0.4},{"s":"Subchannel 4","t":344,"v":0.3},{"s":"Subchannel 4","t":346,"v":0.62},{"s":"Subchannel 4","t":347,"v":0.4},{"s":"Subchannel 4","t":349,"v":0.6},{"s":"Subchannel 4","t":350,"v":1.28},{"s":"Subchannel 4","t":351,"v":0.8},{"s":"Subchannel 4","t":352,"v":0.3},{"s":"Subchannel 4","t":353,"v":0.76},{"s":"Subchannel 4","t":354,"v":0.72},{"s":"Subchannel 4","t":355,"v":0.4},{"s":"Subchannel 4","t":357,"v":0.4},{"s":"Subchannel 4","t":359,"v":0.3},{"s":"Subchannel 4","t":362,"v":0.3},{"s":"Subchannel 4","t":363,"v":0.89},{"s":"Subchannel 4","t":364,"v":0.75},{"s":"Subchannel 4","t":365,"v":0.3},{"s":"Subchannel 4","t":372,"v":0.28},{"s":"Subchannel 4","t":373,"v":0.6},{"s":"Subchannel 4","t":374,"v":0.88},{"s":"Subchannel 4","t":375,"v":0.8},{"s":"Subchannel 4","t":376,"v":0.32},{"s":"Subchannel 4","t":377,"v":0.62},{"s":"Subchannel 4","t":378,"v":0.7},{"s":"Subchannel 4","t":379,"v":0.82},{"s":"Subchannel 4","t":380,"v":0.55},{"s":"Subchannel 4","t":381,"v":0.72},{"s":"Subchannel 4","t":382,"v":0.5},{"s":"Subchannel 4","t":383,"v":0.26},{"s":"Subchannel 4","t":400,"v":0.26},{"s":"Subchannel 4","t":417,"v":0.26},{"s":"Subchannel 4","t":418,"v":0.31},{"s":"Subchannel 4","t":419,"v":0.26},{"s":"Subchannel 4","t":440,"v":0.26},{"s":"Subchannel 4","t":446,"v":0.285},{"s":"Subchannel 4","t":452,"v":0.26},{"s":"Subchannel 4","t":480,"v":0.255},{"s":"Subchannel 4","t":527,"v":0.26},{"s":"Subchannel 4","t":528,"v":0.6},{"s":"Subchannel 4","t":530,"v":0.62},{"s":"Subchannel 4","t":531,"v":0.5},{"s":"Subchannel 4","t":533,"v":0.44},{"s":"Subchannel 4","t":535,"v":0.35},{"s":"Subchannel 4","t":536,"v":0.77},{"s":"Subchannel 4","t":537,"v":0.6},{"s":"Subchannel 4","t":538,"v":0.28},{"s":"Subchannel 4","t":540,"v":0.3},{"s":"Subchannel 4","t":541,"v":0.38},{"s":"Subchannel 4","t":542,"v":0.35},{"s":"Subchannel 4","t":543,"v":0.28},{"s":"Subchannel 4","t":544,"v":0.62},{"s":"Subchannel 4","t":545,"v":0.58},{"s":"Subchannel 4","t":546,"v":0.26},{"s":"Subchannel 4","t":550,"v":0.255}
    ],
    "c3": [
      {"s":"Subchannel 1","t":0,"v":4.49},{"s":"Subchannel 1","t":10,"v":4.5},{"s":"Subchannel 1","t":20,"v":4.49},{"s":"Subchannel 1","t":30,"v":4.49},{"s":"Subchannel 1","t":40,"v":4.49},{"s":"Subchannel 1","t":49,"v":4.49},
      {"s":"Subchannel 1","t":51,"v":0.4},{"s":"Subchannel 1","t":54,"v":0.45},{"s":"Subchannel 1","t":56,"v":0.52},{"s":"Subchannel 1","t":58,"v":0.48},{"s":"Subchannel 1","t":60,"v":0.5},{"s":"Subchannel 1","t":63,"v":0.43},{"s":"Subchannel 1","t":66,"v":0.4},{"s":"Subchannel 1","t":70,"v":0.35},{"s":"Subchannel 1","t":75,"v":0.31},{"s":"Subchannel 1","t":80,"v":0.29},{"s":"Subchannel 1","t":90,"v":0.26},{"s":"Subchannel 1","t":100,"v":0.24},{"s":"Subchannel 1","t":120,"v":0.22},{"s":"Subchannel 1","t":140,"v":0.21},{"s":"Subchannel 1","t":183,"v":0.21},{"s":"Subchannel 1","t":184,"v":0.57},{"s":"Subchannel 1","t":185,"v":0.5},{"s":"Subchannel 1","t":186,"v":0.3},{"s":"Subchannel 1","t":187,"v":0.4},{"s":"Subchannel 1","t":188,"v":0.21},{"s":"Subchannel 1","t":250,"v":0.21},{"s":"Subchannel 1","t":253,"v":0.3},{"s":"Subchannel 1","t":254,"v":0.65},{"s":"Subchannel 1","t":255,"v":0.6},{"s":"Subchannel 1","t":256,"v":0.22},{"s":"Subchannel 1","t":262,"v":0.22},{"s":"Subchannel 1","t":263,"v":0.74},{"s":"Subchannel 1","t":264,"v":0.7},{"s":"Subchannel 1","t":265,"v":0.21},{"s":"Subchannel 1","t":400,"v":0.21},{"s":"Subchannel 1","t":550,"v":0.21},

      {"s":"Subchannel 2","t":0,"v":4.04},{"s":"Subchannel 2","t":10,"v":4.04},{"s":"Subchannel 2","t":20,"v":4.03},{"s":"Subchannel 2","t":30,"v":4.04},{"s":"Subchannel 2","t":40,"v":4.04},{"s":"Subchannel 2","t":49,"v":4.03},
      {"s":"Subchannel 2","t":51,"v":0.38},{"s":"Subchannel 2","t":54,"v":0.42},{"s":"Subchannel 2","t":56,"v":0.45},{"s":"Subchannel 2","t":58,"v":0.4},{"s":"Subchannel 2","t":60,"v":0.42},{"s":"Subchannel 2","t":63,"v":0.37},{"s":"Subchannel 2","t":66,"v":0.35},{"s":"Subchannel 2","t":70,"v":0.32},{"s":"Subchannel 2","t":75,"v":0.29},{"s":"Subchannel 2","t":80,"v":0.27},{"s":"Subchannel 2","t":90,"v":0.25},{"s":"Subchannel 2","t":100,"v":0.23},{"s":"Subchannel 2","t":120,"v":0.22},{"s":"Subchannel 2","t":140,"v":0.21},{"s":"Subchannel 2","t":183,"v":0.21},{"s":"Subchannel 2","t":184,"v":0.57},{"s":"Subchannel 2","t":185,"v":0.5},{"s":"Subchannel 2","t":186,"v":0.21},{"s":"Subchannel 2","t":400,"v":0.21},{"s":"Subchannel 2","t":526,"v":0.21},
      {"s":"Subchannel 2","t":527,"v":0.6},{"s":"Subchannel 2","t":528,"v":0.76},{"s":"Subchannel 2","t":530,"v":0.75},{"s":"Subchannel 2","t":531,"v":0.4},{"s":"Subchannel 2","t":533,"v":0.5},{"s":"Subchannel 2","t":534,"v":0.55},{"s":"Subchannel 2","t":536,"v":0.81},{"s":"Subchannel 2","t":537,"v":0.6},{"s":"Subchannel 2","t":538,"v":0.25},{"s":"Subchannel 2","t":540,"v":0.27},{"s":"Subchannel 2","t":542,"v":0.26},{"s":"Subchannel 2","t":543,"v":0.22},{"s":"Subchannel 2","t":545,"v":0.69},{"s":"Subchannel 2","t":546,"v":0.6},{"s":"Subchannel 2","t":547,"v":0.22},{"s":"Subchannel 2","t":550,"v":0.21},

      {"s":"Subchannel 3","t":0,"v":3.96},{"s":"Subchannel 3","t":10,"v":3.96},{"s":"Subchannel 3","t":20,"v":3.95},{"s":"Subchannel 3","t":30,"v":3.96},{"s":"Subchannel 3","t":40,"v":3.96},{"s":"Subchannel 3","t":49,"v":3.95},
      {"s":"Subchannel 3","t":51,"v":0.34},{"s":"Subchannel 3","t":53,"v":0.36},{"s":"Subchannel 3","t":56,"v":0.42},{"s":"Subchannel 3","t":58,"v":0.38},{"s":"Subchannel 3","t":60,"v":0.4},{"s":"Subchannel 3","t":62,"v":0.34},{"s":"Subchannel 3","t":65,"v":0.32},{"s":"Subchannel 3","t":68,"v":0.31},{"s":"Subchannel 3","t":72,"v":0.3},{"s":"Subchannel 3","t":78,"v":0.27},{"s":"Subchannel 3","t":85,"v":0.25},{"s":"Subchannel 3","t":95,"v":0.24},{"s":"Subchannel 3","t":110,"v":0.22},{"s":"Subchannel 3","t":130,"v":0.21},{"s":"Subchannel 3","t":152,"v":0.21},{"s":"Subchannel 3","t":153,"v":0.85},{"s":"Subchannel 3","t":154,"v":0.8},{"s":"Subchannel 3","t":155,"v":0.21},{"s":"Subchannel 3","t":166,"v":0.21},{"s":"Subchannel 3","t":167,"v":0.33},{"s":"Subchannel 3","t":168,"v":0.21},{"s":"Subchannel 3","t":183,"v":0.21},{"s":"Subchannel 3","t":184,"v":0.54},{"s":"Subchannel 3","t":185,"v":0.45},{"s":"Subchannel 3","t":186,"v":0.35},{"s":"Subchannel 3","t":187,"v":0.21},{"s":"Subchannel 3","t":400,"v":0.21},{"s":"Subchannel 3","t":526,"v":0.21},
      {"s":"Subchannel 3","t":527,"v":0.45},{"s":"Subchannel 3","t":528,"v":0.59},{"s":"Subchannel 3","t":530,"v":0.5},{"s":"Subchannel 3","t":531,"v":0.35},{"s":"Subchannel 3","t":533,"v":0.54},{"s":"Subchannel 3","t":535,"v":0.45},{"s":"Subchannel 3","t":536,"v":0.58},{"s":"Subchannel 3","t":537,"v":0.4},{"s":"Subchannel 3","t":538,"v":0.22},{"s":"Subchannel 3","t":542,"v":0.22},{"s":"Subchannel 3","t":544,"v":0.35},{"s":"Subchannel 3","t":545,"v":0.53},{"s":"Subchannel 3","t":546,"v":0.45},{"s":"Subchannel 3","t":547,"v":0.22},{"s":"Subchannel 3","t":550,"v":0.21},

      {"s":"Subchannel 4","t":0,"v":4.7},{"s":"Subchannel 4","t":10,"v":4.71},{"s":"Subchannel 4","t":20,"v":4.71},{"s":"Subchannel 4","t":30,"v":4.72},{"s":"Subchannel 4","t":40,"v":4.71},{"s":"Subchannel 4","t":49,"v":4.71},
      {"s":"Subchannel 4","t":51,"v":0.5},{"s":"Subchannel 4","t":53,"v":0.58},{"s":"Subchannel 4","t":55,"v":0.56},{"s":"Subchannel 4","t":57,"v":0.65},{"s":"Subchannel 4","t":58,"v":0.71},{"s":"Subchannel 4","t":59,"v":0.6},{"s":"Subchannel 4","t":61,"v":0.62},{"s":"Subchannel 4","t":63,"v":0.52},{"s":"Subchannel 4","t":65,"v":0.56},{"s":"Subchannel 4","t":67,"v":0.48},{"s":"Subchannel 4","t":70,"v":0.44},{"s":"Subchannel 4","t":72,"v":0.41},{"s":"Subchannel 4","t":75,"v":0.38},{"s":"Subchannel 4","t":80,"v":0.34},{"s":"Subchannel 4","t":88,"v":0.29},{"s":"Subchannel 4","t":95,"v":0.26},{"s":"Subchannel 4","t":108,"v":0.24},{"s":"Subchannel 4","t":120,"v":0.23},{"s":"Subchannel 4","t":140,"v":0.22},{"s":"Subchannel 4","t":152,"v":0.21},{"s":"Subchannel 4","t":153,"v":0.28},{"s":"Subchannel 4","t":154,"v":0.21},{"s":"Subchannel 4","t":183,"v":0.21},{"s":"Subchannel 4","t":184,"v":0.34},{"s":"Subchannel 4","t":185,"v":0.21},{"s":"Subchannel 4","t":253,"v":0.22},{"s":"Subchannel 4","t":254,"v":0.63},{"s":"Subchannel 4","t":255,"v":0.6},{"s":"Subchannel 4","t":256,"v":0.21},{"s":"Subchannel 4","t":259,"v":0.25},{"s":"Subchannel 4","t":260,"v":0.36},{"s":"Subchannel 4","t":261,"v":0.25},{"s":"Subchannel 4","t":263,"v":0.74},{"s":"Subchannel 4","t":264,"v":0.72},{"s":"Subchannel 4","t":265,"v":0.21},{"s":"Subchannel 4","t":275,"v":0.22},{"s":"Subchannel 4","t":290,"v":0.21},{"s":"Subchannel 4","t":291,"v":0.48},{"s":"Subchannel 4","t":292,"v":0.4},{"s":"Subchannel 4","t":293,"v":0.21},{"s":"Subchannel 4","t":331,"v":0.21},
      {"s":"Subchannel 4","t":332,"v":0.86},{"s":"Subchannel 4","t":334,"v":0.85},{"s":"Subchannel 4","t":335,"v":0.21},{"s":"Subchannel 4","t":336,"v":0.3},{"s":"Subchannel 4","t":337,"v":0.9},{"s":"Subchannel 4","t":338,"v":0.88},{"s":"Subchannel 4","t":339,"v":0.21},{"s":"Subchannel 4","t":340,"v":0.25},{"s":"Subchannel 4","t":342,"v":0.77},{"s":"Subchannel 4","t":343,"v":0.25},{"s":"Subchannel 4","t":344,"v":0.78},{"s":"Subchannel 4","t":345,"v":0.22},{"s":"Subchannel 4","t":346,"v":0.78},{"s":"Subchannel 4","t":347,"v":0.35},{"s":"Subchannel 4","t":349,"v":0.8},{"s":"Subchannel 4","t":350,"v":1.78},{"s":"Subchannel 4","t":351,"v":1.4},{"s":"Subchannel 4","t":352,"v":0.5},{"s":"Subchannel 4","t":353,"v":0.92},{"s":"Subchannel 4","t":354,"v":0.5},{"s":"Subchannel 4","t":355,"v":0.22},{"s":"Subchannel 4","t":356,"v":0.45},{"s":"Subchannel 4","t":357,"v":0.45},{"s":"Subchannel 4","t":358,"v":0.22},{"s":"Subchannel 4","t":359,"v":0.9},{"s":"Subchannel 4","t":360,"v":1.9},{"s":"Subchannel 4","t":361,"v":1.2},{"s":"Subchannel 4","t":362,"v":0.22},{"s":"Subchannel 4","t":371,"v":0.21},{"s":"Subchannel 4","t":372,"v":1.19},{"s":"Subchannel 4","t":373,"v":0.9},{"s":"Subchannel 4","t":374,"v":1.05},{"s":"Subchannel 4","t":375,"v":0.5},{"s":"Subchannel 4","t":376,"v":1.1},{"s":"Subchannel 4","t":377,"v":1.11},{"s":"Subchannel 4","t":378,"v":1.05},{"s":"Subchannel 4","t":379,"v":0.9},{"s":"Subchannel 4","t":380,"v":0.4},{"s":"Subchannel 4","t":381,"v":0.21},{"s":"Subchannel 4","t":417,"v":0.21},{"s":"Subchannel 4","t":418,"v":0.4},{"s":"Subchannel 4","t":419,"v":0.22},{"s":"Subchannel 4","t":440,"v":0.21},{"s":"Subchannel 4","t":446,"v":0.22},{"s":"Subchannel 4","t":455,"v":0.21},{"s":"Subchannel 4","t":526,"v":0.21},{"s":"Subchannel 4","t":528,"v":0.23},{"s":"Subchannel 4","t":530,"v":0.21},{"s":"Subchannel 4","t":535,"v":0.22},{"s":"Subchannel 4","t":550,"v":0.21}
    ],
    "ee": [
      {"s":"Energy efficiency","t":0,"v":6.3},{"s":"Energy efficiency","t":10,"v":6.5},{"s":"Energy efficiency","t":20,"v":6.4},{"s":"Energy efficiency","t":30,"v":6.6},{"s":"Energy efficiency","t":40,"v":6.5},{"s":"Energy efficiency","t":49,"v":6.6},{"s":"Energy efficiency","t":50,"v":7},{"s":"Energy efficiency","t":51,"v":40},{"s":"Energy efficiency","t":52,"v":90},{"s":"Energy efficiency","t":53,"v":110},{"s":"Energy efficiency","t":55,"v":119},{"s":"Energy efficiency","t":57,"v":105},{"s":"Energy efficiency","t":59,"v":100},{"s":"Energy efficiency","t":61,"v":112},{"s":"Energy efficiency","t":64,"v":117},{"s":"Energy efficiency","t":66,"v":110},{"s":"Energy efficiency","t":68,"v":132},{"s":"Energy efficiency","t":70,"v":128},{"s":"Energy efficiency","t":73,"v":146},{"s":"Energy efficiency","t":76,"v":145},{"s":"Energy efficiency","t":80,"v":149},{"s":"Energy efficiency","t":82,"v":147},{"s":"Energy efficiency","t":84,"v":155},{"s":"Energy efficiency","t":87,"v":160},{"s":"Energy efficiency","t":89,"v":165},{"s":"Energy efficiency","t":92,"v":163},{"s":"Energy efficiency","t":95,"v":167},{"s":"Energy efficiency","t":98,"v":162},{"s":"Energy efficiency","t":102,"v":168},{"s":"Energy efficiency","t":105,"v":172},{"s":"Energy efficiency","t":107,"v":176},{"s":"Energy efficiency","t":110,"v":178},{"s":"Energy efficiency","t":114,"v":180},{"s":"Energy efficiency","t":116,"v":190},{"s":"Energy efficiency","t":118,"v":197},{"s":"Energy efficiency","t":121,"v":200},{"s":"Energy efficiency","t":125,"v":203},{"s":"Energy efficiency","t":130,"v":206},{"s":"Energy efficiency","t":134,"v":208},{"s":"Energy efficiency","t":137,"v":210},{"s":"Energy efficiency","t":142,"v":212},{"s":"Energy efficiency","t":148,"v":211},{"s":"Energy efficiency","t":154,"v":213},{"s":"Energy efficiency","t":159,"v":212},{"s":"Energy efficiency","t":162,"v":218},{"s":"Energy efficiency","t":164,"v":224},{"s":"Energy efficiency","t":168,"v":225},{"s":"Energy efficiency","t":172,"v":223},{"s":"Energy efficiency","t":176,"v":224},{"s":"Energy efficiency","t":180,"v":221},{"s":"Energy efficiency","t":185,"v":218},{"s":"Energy efficiency","t":190,"v":221},{"s":"Energy efficiency","t":195,"v":220},{"s":"Energy efficiency","t":200,"v":222},{"s":"Energy efficiency","t":207,"v":221},{"s":"Energy efficiency","t":212,"v":219},{"s":"Energy efficiency","t":217,"v":221},{"s":"Energy efficiency","t":220,"v":218},{"s":"Energy efficiency","t":221,"v":208},{"s":"Energy efficiency","t":223,"v":218},{"s":"Energy efficiency","t":228,"v":219},{"s":"Energy efficiency","t":234,"v":220},{"s":"Energy efficiency","t":239,"v":219},{"s":"Energy efficiency","t":245,"v":223},{"s":"Energy efficiency","t":250,"v":226},{"s":"Energy efficiency","t":253,"v":227.5},{"s":"Energy efficiency","t":258,"v":226},{"s":"Energy efficiency","t":263,"v":224},{"s":"Energy efficiency","t":270,"v":221},{"s":"Energy efficiency","t":276,"v":219},{"s":"Energy efficiency","t":280,"v":218},{"s":"Energy efficiency","t":288,"v":221},{"s":"Energy efficiency","t":295,"v":223},{"s":"Energy efficiency","t":300,"v":222},{"s":"Energy efficiency","t":310,"v":224},{"s":"Energy efficiency","t":318,"v":222},{"s":"Energy efficiency","t":326,"v":220},{"s":"Energy efficiency","t":333,"v":222},{"s":"Energy efficiency","t":338,"v":224},{"s":"Energy efficiency","t":340,"v":228},{"s":"Energy efficiency","t":342,"v":222},{"s":"Energy efficiency","t":344,"v":226},{"s":"Energy efficiency","t":346,"v":218},{"s":"Energy efficiency","t":348,"v":228},{"s":"Energy efficiency","t":350,"v":230},{"s":"Energy efficiency","t":352,"v":224},{"s":"Energy efficiency","t":354,"v":210},{"s":"Energy efficiency","t":355,"v":200},{"s":"Energy efficiency","t":357,"v":206},{"s":"Energy efficiency","t":359,"v":200},{"s":"Energy efficiency","t":360,"v":215},{"s":"Energy efficiency","t":362,"v":228},{"s":"Energy efficiency","t":366,"v":227},{"s":"Energy efficiency","t":372,"v":224},{"s":"Energy efficiency","t":380,"v":223},{"s":"Energy efficiency","t":390,"v":222},{"s":"Energy efficiency","t":400,"v":224},{"s":"Energy efficiency","t":410,"v":225},{"s":"Energy efficiency","t":420,"v":226},{"s":"Energy efficiency","t":430,"v":227},{"s":"Energy efficiency","t":440,"v":227},{"s":"Energy efficiency","t":450,"v":228},{"s":"Energy efficiency","t":458,"v":226},{"s":"Energy efficiency","t":465,"v":222},{"s":"Energy efficiency","t":469,"v":219},{"s":"Energy efficiency","t":475,"v":222},{"s":"Energy efficiency","t":482,"v":225},{"s":"Energy efficiency","t":492,"v":229.6},{"s":"Energy efficiency","t":498,"v":227},{"s":"Energy efficiency","t":505,"v":227},{"s":"Energy efficiency","t":512,"v":226},{"s":"Energy efficiency","t":518,"v":228},{"s":"Energy efficiency","t":520,"v":227},{"s":"Energy efficiency","t":521,"v":216},{"s":"Energy efficiency","t":522,"v":222},{"s":"Energy efficiency","t":526,"v":226},{"s":"Energy efficiency","t":530,"v":228},{"s":"Energy efficiency","t":535,"v":230.7},{"s":"Energy efficiency","t":540,"v":229},{"s":"Energy efficiency","t":545,"v":228},{"s":"Energy efficiency","t":550,"v":227.5},

      {"s":"Sum Rate","t":0,"v":69.5},{"s":"Sum Rate","t":5,"v":70.5},{"s":"Sum Rate","t":10,"v":71},{"s":"Sum Rate","t":16,"v":73},{"s":"Sum Rate","t":20,"v":72},{"s":"Sum Rate","t":25,"v":71.5},{"s":"Sum Rate","t":30,"v":73},{"s":"Sum Rate","t":35,"v":74},{"s":"Sum Rate","t":39,"v":75},{"s":"Sum Rate","t":43,"v":74},{"s":"Sum Rate","t":48,"v":73.5},{"s":"Sum Rate","t":50,"v":74},{"s":"Sum Rate","t":51,"v":152},{"s":"Sum Rate","t":53,"v":156},{"s":"Sum Rate","t":55,"v":158},{"s":"Sum Rate","t":58,"v":160},{"s":"Sum Rate","t":61,"v":164.5},{"s":"Sum Rate","t":64,"v":166},{"s":"Sum Rate","t":67,"v":168},{"s":"Sum Rate","t":70.6,"v":172},{"s":"Sum Rate","t":73,"v":175},{"s":"Sum Rate","t":75,"v":176},{"s":"Sum Rate","t":78,"v":175},{"s":"Sum Rate","t":80,"v":177},{"s":"Sum Rate","t":84,"v":180},{"s":"Sum Rate","t":88,"v":181},{"s":"Sum Rate","t":91,"v":178},{"s":"Sum Rate","t":95,"v":180},{"s":"Sum Rate","t":98,"v":178},{"s":"Sum Rate","t":102,"v":182},{"s":"Sum Rate","t":107,"v":186.5},{"s":"Sum Rate","t":111,"v":189},{"s":"Sum Rate","t":114,"v":191},{"s":"Sum Rate","t":115,"v":195},{"s":"Sum Rate","t":116,"v":205.5},{"s":"Sum Rate","t":119,"v":209},{"s":"Sum Rate","t":122,"v":213},{"s":"Sum Rate","t":125,"v":216},{"s":"Sum Rate","t":129,"v":218},{"s":"Sum Rate","t":133,"v":219},{"s":"Sum Rate","t":137,"v":222},{"s":"Sum Rate","t":140,"v":221},{"s":"Sum Rate","t":145,"v":220},{"s":"Sum Rate","t":150,"v":218},{"s":"Sum Rate","t":154,"v":217},{"s":"Sum Rate","t":157,"v":219},{"s":"Sum Rate","t":160,"v":222},{"s":"Sum Rate","t":164,"v":234},{"s":"Sum Rate","t":168,"v":232},{"s":"Sum Rate","t":172,"v":233},{"s":"Sum Rate","t":175.5,"v":233},{"s":"Sum Rate","t":180,"v":230},{"s":"Sum Rate","t":184.6,"v":227.5},{"s":"Sum Rate","t":190,"v":228},{"s":"Sum Rate","t":195,"v":229},{"s":"Sum Rate","t":200,"v":229},{"s":"Sum Rate","t":207,"v":230.7},{"s":"Sum Rate","t":212,"v":228},{"s":"Sum Rate","t":217,"v":226},{"s":"Sum Rate","t":221,"v":225.4},{"s":"Sum Rate","t":225,"v":226},{"s":"Sum Rate","t":230,"v":226},{"s":"Sum Rate","t":235,"v":227},{"s":"Sum Rate","t":239,"v":227.5},{"s":"Sum Rate","t":245,"v":230},{"s":"Sum Rate","t":250,"v":233},{"s":"Sum Rate","t":253,"v":236},{"s":"Sum Rate","t":258,"v":234},{"s":"Sum Rate","t":263,"v":233},{"s":"Sum Rate","t":266.6,"v":232.8},{"s":"Sum Rate","t":270,"v":230},{"s":"Sum Rate","t":276,"v":227.5},{"s":"Sum Rate","t":283,"v":228},{"s":"Sum Rate","t":290,"v":230},{"s":"Sum Rate","t":298.5,"v":231.7},{"s":"Sum Rate","t":305,"v":232},{"s":"Sum Rate","t":312,"v":231},{"s":"Sum Rate","t":320,"v":230},{"s":"Sum Rate","t":326,"v":228.6},{"s":"Sum Rate","t":333,"v":230},{"s":"Sum Rate","t":340,"v":234},{"s":"Sum Rate","t":344,"v":237},{"s":"Sum Rate","t":349,"v":236},{"s":"Sum Rate","t":353,"v":233},{"s":"Sum Rate","t":356,"v":228},{"s":"Sum Rate","t":358,"v":226.5},{"s":"Sum Rate","t":360,"v":230},{"s":"Sum Rate","t":363,"v":233},{"s":"Sum Rate","t":367,"v":233.8},{"s":"Sum Rate","t":372,"v":233},{"s":"Sum Rate","t":380,"v":231},{"s":"Sum Rate","t":390,"v":229.6},{"s":"Sum Rate","t":398,"v":231},{"s":"Sum Rate","t":405,"v":232},{"s":"Sum Rate","t":412.5,"v":233.5},{"s":"Sum Rate","t":420,"v":233},{"s":"Sum Rate","t":428,"v":234},{"s":"Sum Rate","t":435,"v":234.9},{"s":"Sum Rate","t":442,"v":235},{"s":"Sum Rate","t":450,"v":234},{"s":"Sum Rate","t":458,"v":234},{"s":"Sum Rate","t":463,"v":231},{"s":"Sum Rate","t":469,"v":227.5},{"s":"Sum Rate","t":474,"v":230},{"s":"Sum Rate","t":480,"v":233},{"s":"Sum Rate","t":485,"v":235},{"s":"Sum Rate","t":490,"v":238},{"s":"Sum Rate","t":495,"v":236},{"s":"Sum Rate","t":503.6,"v":235},{"s":"Sum Rate","t":510,"v":234},{"s":"Sum Rate","t":516,"v":235},{"s":"Sum Rate","t":522,"v":232.8},{"s":"Sum Rate","t":527,"v":236},{"s":"Sum Rate","t":533,"v":239},{"s":"Sum Rate","t":538,"v":237},{"s":"Sum Rate","t":543,"v":236},{"s":"Sum Rate","t":549,"v":234.9},{"s":"Sum Rate","t":550,"v":235}
    ]
  },
  "concat": [
    {
      "width": 1145,
      "height": 837,
      "title": {"text": "Cell(1)", "offset": -30},
      "layer": [
        {
          "data": {"name": "c1"},
          "mark": {"type": "line", "strokeWidth": 5.5, "strokeJoin": "round", "clip": true},
          "encoding": {
            "x": {"field": "t", "type": "quantitative", "scale": {"domain": [-27.5, 577.5], "nice": false, "zero": false}, "axis": {"values": [0, 100, 200, 300, 400, 500], "format": "d", "title": "Time slots"}},
            "y": {"field": "v", "type": "quantitative", "scale": {"domain": [0.006, 4.274], "nice": false, "zero": false}, "axis": {"values": [0.5, 1, 1.5, 2, 2.5, 3, 3.5, 4], "format": ".1f", "title": "P(Watt)"}},
            "color": {"field": "s", "type": "nominal", "scale": {"domain": ["Subchannel 1", "Subchannel 2", "Subchannel 3", "Subchannel 4"], "range": ["#0000ff", "#ff0000", "#008000", "#00bfbf"]}, "legend": {"orient": "top-right"}}
          }
        },
        {
          "data": {"values": [{"label": "×10⁻¹"}]},
          "mark": {"type": "text", "align": "left", "baseline": "alphabetic", "fontSize": 38, "color": "black"},
          "encoding": {
            "text": {"field": "label"},
            "x": {"datum": -51, "type": "quantitative", "scale": {"domain": [-27.5, 577.5], "nice": false, "zero": false}, "axis": {"values": [0, 100, 200, 300, 400, 500], "format": "d", "title": "Time slots"}},
            "y": {"datum": 4.34, "type": "quantitative", "scale": {"domain": [0.006, 4.274], "nice": false, "zero": false}, "axis": {"values": [0.5, 1, 1.5, 2, 2.5, 3, 3.5, 4], "format": ".1f", "title": "P(Watt)"}}
          }
        }
      ]
    },
    {
      "width": 1145,
      "height": 837,
      "title": {"text": "Cell(2)", "offset": -30},
      "layer": [
        {
          "data": {"name": "c2"},
          "mark": {"type": "line", "strokeWidth": 5.5, "strokeJoin": "round", "clip": true},
          "encoding": {
            "x": {"field": "t", "type": "quantitative", "scale": {"domain": [-27.5, 577.5], "nice": false, "zero": false}, "axis": {"values": [0, 100, 200, 300, 400, 500], "format": "d", "title": "Time slots"}},
            "y": {"field": "v", "type": "quantitative", "scale": {"domain": [0.02, 4.24], "nice": false, "zero": false}, "axis": {"values": [0.5, 1, 1.5, 2, 2.5, 3, 3.5, 4], "format": ".1f", "title": "P(Watt)"}},
            "color": {"field": "s", "type": "nominal", "scale": {"domain": ["Subchannel 1", "Subchannel 2", "Subchannel 3", "Subchannel 4"], "range": ["#0000ff", "#ff0000", "#008000", "#00bfbf"]}, "legend": {"orient": "top-right"}}
          }
        },
        {
          "data": {"values": [{"label": "×10⁻¹"}]},
          "mark": {"type": "text", "align": "left", "baseline": "alphabetic", "fontSize": 38, "color": "black"},
          "encoding": {
            "text": {"field": "label"},
            "x": {"datum": -51, "type": "quantitative", "scale": {"domain": [-27.5, 577.5], "nice": false, "zero": false}, "axis": {"values": [0, 100, 200, 300, 400, 500], "format": "d", "title": "Time slots"}},
            "y": {"datum": 4.305, "type": "quantitative", "scale": {"domain": [0.02, 4.24], "nice": false, "zero": false}, "axis": {"values": [0.5, 1, 1.5, 2, 2.5, 3, 3.5, 4], "format": ".1f", "title": "P(Watt)"}}
          }
        }
      ]
    },
    {
      "width": 1145,
      "height": 837,
      "title": {"text": "Cell(3)", "offset": -44},
      "layer": [
        {
          "data": {"name": "c3"},
          "mark": {"type": "line", "strokeWidth": 5.5, "strokeJoin": "round", "clip": true},
          "encoding": {
            "x": {"field": "t", "type": "quantitative", "scale": {"domain": [-27.5, 577.5], "nice": false, "zero": false}, "axis": {"values": [0, 100, 200, 300, 400, 500], "format": "d", "title": "Time slots"}},
            "y": {"field": "v", "type": "quantitative", "scale": {"domain": [-0.04, 5.0], "nice": false, "zero": false}, "axis": {"values": [0.5, 1, 1.5, 2, 2.5, 3, 3.5, 4, 4.5, 5], "format": ".1f", "title": "P(Watt)"}},
            "color": {"field": "s", "type": "nominal", "scale": {"domain": ["Subchannel 1", "Subchannel 2", "Subchannel 3", "Subchannel 4"], "range": ["#0000ff", "#ff0000", "#008000", "#00bfbf"]}, "legend": {"orient": "top-right"}}
          }
        },
        {
          "data": {"values": [{"label": "×10⁻¹"}]},
          "mark": {"type": "text", "align": "left", "baseline": "alphabetic", "fontSize": 38, "color": "black"},
          "encoding": {
            "text": {"field": "label"},
            "x": {"datum": -51, "type": "quantitative", "scale": {"domain": [-27.5, 577.5], "nice": false, "zero": false}, "axis": {"values": [0, 100, 200, 300, 400, 500], "format": "d", "title": "Time slots"}},
            "y": {"datum": 5.165, "type": "quantitative", "scale": {"domain": [-0.04, 5.0], "nice": false, "zero": false}, "axis": {"values": [0.5, 1, 1.5, 2, 2.5, 3, 3.5, 4, 4.5, 5], "format": ".1f", "title": "P(Watt)"}}
          }
        }
      ]
    },
    {
      "width": 1145,
      "height": 837,
      "title": {"text": "Energy efficiency E[Mbps/Hz] and Sum Rate(Mbps)", "offset": -2},
      "data": {"name": "ee"},
      "mark": {"type": "line", "strokeWidth": 5.5, "strokeJoin": "round", "clip": true},
      "encoding": {
        "x": {"field": "t", "type": "quantitative", "scale": {"domain": [-27.5, 577.5], "nice": false, "zero": false}, "axis": {"values": [0, 100, 200, 300, 400, 500], "format": "d", "title": "Time slots"}},
        "y": {"field": "v", "type": "quantitative", "scale": {"domain": [-5.1, 250.6], "nice": false, "zero": false}, "axis": {"values": [0, 50, 100, 150, 200, 250], "format": "d", "title": null}},
        "color": {"field": "s", "type": "nominal", "scale": {"domain": ["Energy efficiency", "Sum Rate"], "range": ["#ff0000", "#0000ff"]}, "legend": {"orient": "bottom-right", "offset": 31}}
      }
    }
  ]
}
